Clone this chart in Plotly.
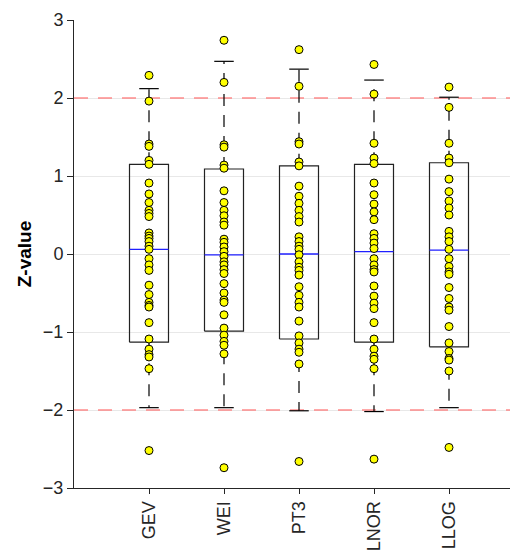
import plotly.graph_objects as go

categories = ["GEV", "WEI", "PT3", "LNOR", "LLOG"]

gev = [2.29, 1.96, 1.41, 1.38, 1.20, 1.15, 0.91, 0.77, 0.66, 0.56, 0.52, 0.48, 0.27, 0.23, 0.20, 0.16,
       0.10, 0.06, -0.06, -0.14, -0.21, -0.40, -0.52, -0.62, -0.66, -0.68, -0.88, -1.09, -1.22, -1.29,
       -1.32, -1.47, -2.52]
wei = [2.74, 2.20, 1.40, 1.37, 1.14, 1.10, 0.81, 0.66, 0.56, 0.49, 0.41, 0.37, 0.19, 0.15, 0.09, 0.03,
       -0.03, -0.10, -0.14, -0.20, -0.25, -0.38, -0.50, -0.59, -0.62, -0.78, -0.95, -1.04, -1.12, -1.17,
       -1.28, -2.74]
pt3 = [2.62, 2.15, 1.44, 1.41, 1.18, 1.13, 0.87, 0.74, 0.65, 0.56, 0.48, 0.41, 0.22, 0.16, 0.10, 0.06,
       -0.01, -0.10, -0.17, -0.21, -0.27, -0.42, -0.53, -0.62, -0.68, -0.86, -1.05, -1.14, -1.22, -1.26,
       -1.41, -2.66]
lnor = [2.43, 2.05, 1.42, 1.23, 1.16, 0.91, 0.76, 0.64, 0.54, 0.44, 0.26, 0.20, 0.14, 0.07, -0.06, -0.14,
        -0.20, -0.23, -0.41, -0.54, -0.63, -0.70, -0.88, -1.09, -1.22, -1.31, -1.35, -1.47, -2.63]
llog = [2.14, 1.88, 1.42, 1.23, 1.17, 0.96, 0.80, 0.68, 0.59, 0.50, 0.29, 0.22, 0.16, 0.06, -0.06, -0.16,
        -0.23, -0.26, -0.43, -0.57, -0.68, -0.72, -0.93, -1.14, -1.25, -1.34, -1.36, -1.50, -2.48]
series = [gev, wei, pt3, lnor, llog]

# box statistics
q3_vals = [1.15, 1.09, 1.13, 1.15, 1.17]
median_vals = [0.06, -0.01, 0.00, 0.03, 0.05]
q1_vals = [-1.13, -0.99, -1.09, -1.13, -1.19]
upper_whisker = [2.12, 2.47, 2.37, 2.23, 2.01]
lower_whisker = [-1.97, -1.97, -2.01, -2.02, -1.97]

thresholds = [-2, 2]
y_ticks = [-3, -2, -1, 0, 1, 2, 3]
x_range = [0, 5.92]
y_range = [-3, 3]

BOX_HALF = 0.26
CAP_HALF = 0.13
FONT = "Liberation Sans, Arial, Helvetica, sans-serif"
INK = "#262626"

fig = go.Figure()

# threshold lines (drawn first, above grid, below the marks)
for t in thresholds:
    fig.add_trace(go.Scatter(x=x_range, y=[t, t], mode="lines",
                             line=dict(color="rgba(255,110,110,0.8)", width=1.5, dash="14px,10px"),
                             showlegend=False, hoverinfo="skip"))

for i, cat in enumerate(categories):
    xc = i + 1
    # dashed whiskers
    fig.add_trace(go.Scatter(x=[xc, xc], y=[q3_vals[i], upper_whisker[i]], mode="lines",
                             line=dict(color="black", width=1.2, dash="12px,9px"),
                             showlegend=False, hoverinfo="skip"))
    fig.add_trace(go.Scatter(x=[xc, xc], y=[q1_vals[i], lower_whisker[i]], mode="lines",
                             line=dict(color="black", width=1.2, dash="12px,9px"),
                             showlegend=False, hoverinfo="skip"))
    # caps
    for w in (upper_whisker[i], lower_whisker[i]):
        fig.add_trace(go.Scatter(x=[xc - CAP_HALF, xc + CAP_HALF], y=[w, w], mode="lines",
                                 line=dict(color="black", width=1.2),
                                 showlegend=False, hoverinfo="skip"))
    # box
    fig.add_trace(go.Scatter(
        x=[xc - BOX_HALF, xc + BOX_HALF, xc + BOX_HALF, xc - BOX_HALF, xc - BOX_HALF],
        y=[q1_vals[i], q1_vals[i], q3_vals[i], q3_vals[i], q1_vals[i]],
        mode="lines", line=dict(color="#222222", width=1.2),
        showlegend=False, hoverinfo="skip"))
    # median
    fig.add_trace(go.Scatter(x=[xc - BOX_HALF, xc + BOX_HALF], y=[median_vals[i], median_vals[i]],
                             mode="lines", line=dict(color="#1f1fff", width=1.3),
                             showlegend=False, hoverinfo="skip"))

for i, vals in enumerate(series):
    fig.add_trace(go.Scatter(
        x=[i + 1] * len(vals), y=vals, mode="markers",
        marker=dict(color="#ffff00", size=8, line=dict(color="black", width=1)),
        name=categories[i], showlegend=False))

# page body has an 8px default margin, so the figure is offset by 8px
fig.update_layout(
    width=510, height=544,
    margin=dict(l=66, r=0, t=12, b=64),
    plot_bgcolor="white", paper_bgcolor="white",
    font=dict(family=FONT, size=15, color=INK),
    showlegend=False,
)
fig.update_xaxes(
    range=x_range, tickmode="array", tickvals=[1, 2, 3, 4, 5], ticktext=categories,
    tickangle=-90, ticks="outside", ticklen=5, tickcolor=INK, showgrid=False,
    showline=True, linecolor=INK, linewidth=1, zeroline=False, automargin=False,
    tickfont=dict(family=FONT, size=18, color=INK),
)
fig.update_yaxes(
    range=y_range, tickmode="array", tickvals=y_ticks, ticks="outside", ticklen=6, tickcolor=INK,
    showgrid=True, gridcolor="#e8e8e8", gridwidth=1, zeroline=False,
    showline=True, linecolor=INK, linewidth=1, automargin=False,
    tickfont=dict(family=FONT, size=18, color=INK),
    title=dict(text="<b>Z-value</b>", font=dict(family=FONT, size=19, color="black"), standoff=6),
)

fig.write_html("out.html")
